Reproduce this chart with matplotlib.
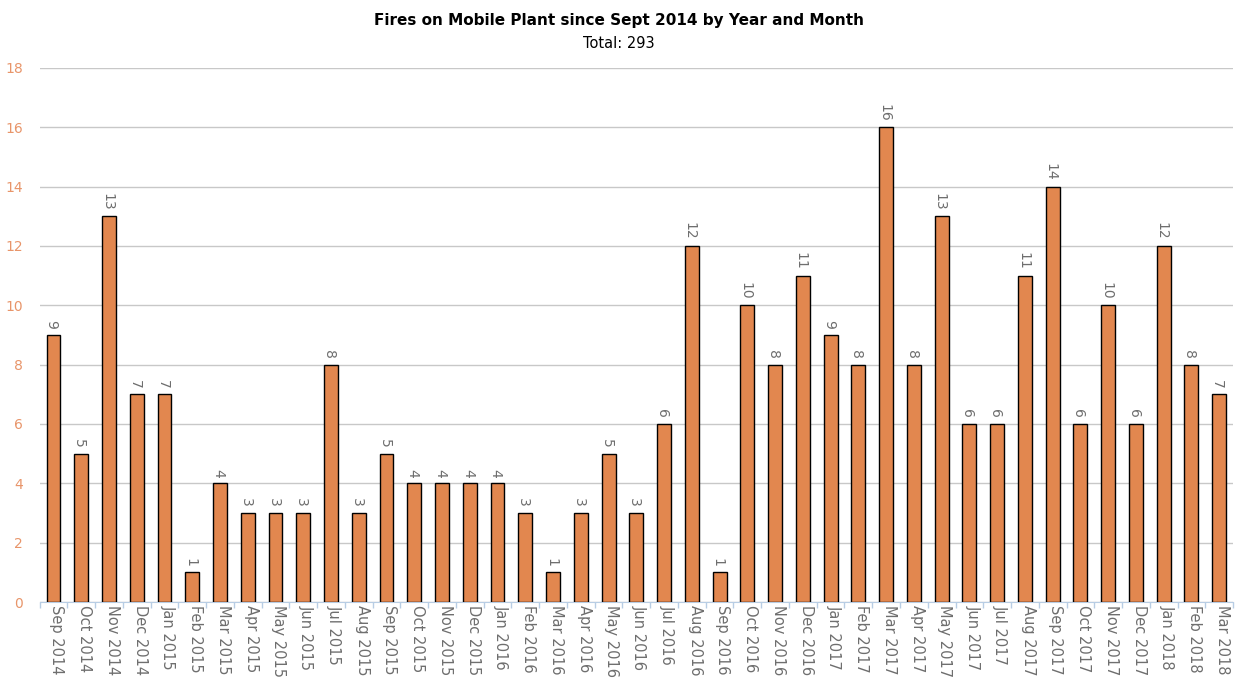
import numpy as np
import matplotlib
matplotlib.use("Agg")
import matplotlib.pyplot as plt

months = ["Sep 2014", "Oct 2014", "Nov 2014", "Dec 2014",
          "Jan 2015", "Feb 2015", "Mar 2015", "Apr 2015", "May 2015", "Jun 2015",
          "Jul 2015", "Aug 2015", "Sep 2015", "Oct 2015", "Nov 2015", "Dec 2015",
          "Jan 2016", "Feb 2016", "Mar 2016", "Apr 2016", "May 2016", "Jun 2016",
          "Jul 2016", "Aug 2016", "Sep 2016", "Oct 2016", "Nov 2016", "Dec 2016",
          "Jan 2017", "Feb 2017", "Mar 2017", "Apr 2017", "May 2017", "Jun 2017",
          "Jul 2017", "Aug 2017", "Sep 2017", "Oct 2017", "Nov 2017", "Dec 2017",
          "Jan 2018", "Feb 2018", "Mar 2018"]
fires = [9, 5, 13, 7,
         7, 1, 4, 3, 3, 3, 8, 3, 5, 4, 4, 4,
         4, 3, 1, 3, 5, 3, 6, 12, 1, 10, 8, 11,
         9, 8, 16, 8, 13, 6, 6, 11, 14, 6, 10, 6,
         12, 8, 7]
y_ticks = [0, 2, 4, 6, 8, 10, 12, 14, 16, 18]

bar_color = "#e2874f"
tick_orange = "#e8956a"
grey_text = "#6e6e6e"

fig = plt.figure(figsize=(12.38, 6.86), dpi=100)
ax = fig.add_axes([0.032, 0.1224, 0.964, 0.7786])

x = np.arange(len(months))
ax.bar(x, fires, width=0.5, color=bar_color, edgecolor="black", linewidth=1.0, zorder=3)

# value labels, nudged left a touch so the digits sit over the bar centre
for xi, v in zip(x, fires):
    ax.text(xi - 0.07, v + 0.2, str(v), rotation=-90, ha="center", va="bottom",
            fontsize=10, color=grey_text)

ax.set_xlim(-0.5, len(months) - 0.5)
ax.set_ylim(0, 18)
ax.set_yticks(y_ticks)
ax.tick_params(axis="y", length=0, colors=tick_orange, labelsize=10, pad=12)
ax.yaxis.grid(True, color="#c8c8c8", linewidth=1.0, zorder=0)

# category ticks sit on the boundaries, labels in the middle
ax.set_xticks(np.arange(-0.5, len(months), 1.0))
ax.set_xticklabels([])
ax.set_xticks(x + 0.12, minor=True)
ax.set_xticklabels(months, minor=True, rotation=-90, fontsize=10.5, color=grey_text)
ax.tick_params(axis="x", which="major", length=4, color="#b8cde4", width=1)
ax.tick_params(axis="x", which="minor", length=0, pad=2)

for side in ["top", "right", "left"]:
    ax.spines[side].set_visible(False)
ax.spines["bottom"].set_color("#b8cde4")

fig.text(0.5, 0.970, "Fires on Mobile Plant since Sept 2014 by Year and Month",
         ha="center", va="center", fontsize=11, fontweight="bold")
fig.text(0.5, 0.936, "Total: 293", ha="center", va="center", fontsize=10.5)

fig.savefig("out.png", dpi=100)
